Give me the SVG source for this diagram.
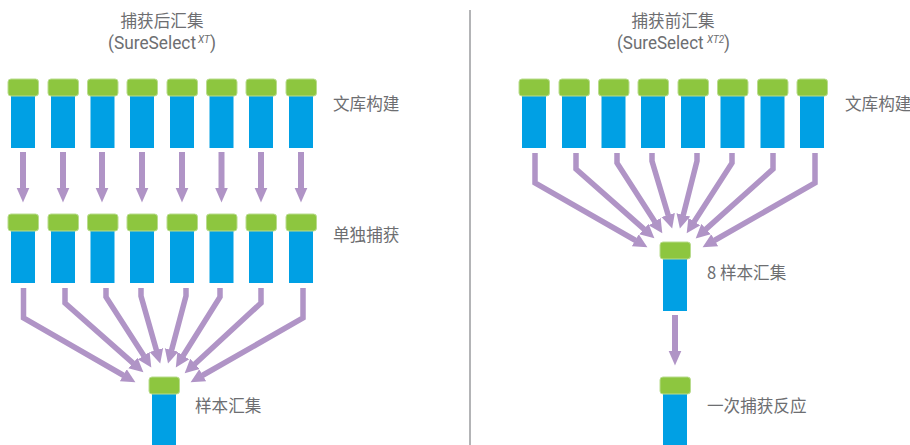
<svg xmlns="http://www.w3.org/2000/svg" width="910" height="445" viewBox="0 0 910 445">
<style>
.cap{fill:#8dc63f;stroke:#b9dc8e;stroke-width:1}
.tube{fill:#00a0e4}
.l{fill:#6d6e71;font-family:"Noto Sans CJK SC","Noto Sans",sans-serif;font-size:16.6px}
.t{fill:#6d6e71;font-family:Roboto,"Liberation Sans",sans-serif;font-size:18px}
.s{font-size:10.500px;font-style:italic}
.a{fill:none;stroke:#b094c6;stroke-width:5.5;stroke-linejoin:miter;marker-end:url(#h)}
.v{fill:none;stroke:#b094c6;stroke-width:6;marker-end:url(#h2)}
</style>
<defs>
<marker id="h" markerUnits="userSpaceOnUse" markerWidth="15" markerHeight="15" refX="0.5" refY="7.500" orient="auto" viewBox="0 0 15 15"><path d="M0 0.500L14 7.500L0 14.500z" fill="#b094c6"/></marker>
<marker id="h2" markerUnits="userSpaceOnUse" markerWidth="16" markerHeight="14" refX="0.5" refY="7" orient="auto" viewBox="0 0 16 14"><path d="M0 0.500L15 7L0 13.500z" fill="#b094c6"/></marker>
<g id="s"><rect class="tube" x="3" y="17" width="24" height="52"/><rect class="cap" x="0" y="0" width="30.500" height="17" rx="3"/></g>
</defs>
<line id="divider" x1="470" y1="10" x2="470" y2="445" stroke="#808285" stroke-width="1.2"/>
<g id="connectors">
<path class="v" d="M23 152V188"/><path class="v" d="M63 152V188"/><path class="v" d="M102 152V188"/><path class="v" d="M142 152V188"/><path class="v" d="M182 152V188"/><path class="v" d="M221.500 152V188"/><path class="v" d="M261 152V188"/><path class="v" d="M301 152V188"/>
<path class="a" d="M23.500 288V318L123.700 375.500"/><path class="a" d="M65 288V303L133.300 363.400"/><path class="a" d="M106 288V297L144 356.100"/><path class="a" d="M141 288V296L156.500 350.500"/><path class="a" d="M186 288V296L171.500 350.500"/><path class="a" d="M220 288V297L183 356"/><path class="a" d="M261 288V303L194.600 364.200"/><path class="a" d="M303 288V318L202.300 375.500"/>
<path class="v" d="M675 315V351"/>
<path class="a" d="M535 153V183L635.700 240.500"/><path class="a" d="M576 153V169L644.300 229.400"/><path class="a" d="M617 153V163L655 222"/><path class="a" d="M652 153V161L668.300 215.500"/><path class="a" d="M697 153V161L683.200 215.400"/><path class="a" d="M732 153V163L694 222"/><path class="a" d="M773 153V169L705.700 229.400"/><path class="a" d="M815 153V183L714.300 240.500"/>
</g>
<g id="left-row1"><use href="#s" x="8" y="79"/><use href="#s" x="48" y="79"/><use href="#s" x="87.500" y="79"/><use href="#s" x="127" y="79"/><use href="#s" x="167" y="79"/><use href="#s" x="206.500" y="79"/><use href="#s" x="246" y="79"/><use href="#s" x="286" y="79"/></g>
<g id="left-row2"><use href="#s" x="8" y="214"/><use href="#s" x="48" y="214"/><use href="#s" x="87.500" y="214"/><use href="#s" x="127" y="214"/><use href="#s" x="167" y="214"/><use href="#s" x="206.500" y="214"/><use href="#s" x="246" y="214"/><use href="#s" x="286" y="214"/></g>
<g id="left-pool"><use href="#s" x="149" y="377"/></g>
<g id="right-row1"><use href="#s" x="519" y="79"/><use href="#s" x="559" y="79"/><use href="#s" x="598.500" y="79"/><use href="#s" x="638" y="79"/><use href="#s" x="678" y="79"/><use href="#s" x="717.500" y="79"/><use href="#s" x="757.500" y="79"/><use href="#s" x="797" y="79"/></g>
<g id="right-pool"><use href="#s" x="660" y="242"/></g>
<g id="right-capture"><use href="#s" x="660" y="377"/></g>
<g id="labels">
<text class="l" x="162" y="27" text-anchor="middle">捕获后汇集</text>
<text class="t" x="108" y="49" textLength="108" lengthAdjust="spacingAndGlyphs">(SureSelect<tspan class="s" dx="2" dy="-6">XT</tspan><tspan dy="6">)</tspan></text>
<text class="l" x="673" y="27" text-anchor="middle">捕获前汇集</text>
<text class="t" x="617" y="49" textLength="113" lengthAdjust="spacingAndGlyphs">(SureSelect<tspan class="s" dx="3.500" dy="-6">XT2</tspan><tspan dy="6">)</tspan></text>
<text class="l" x="333" y="110">文库构建</text>
<text class="l" x="333" y="241">单独捕获</text>
<text class="l" x="195" y="412">样本汇集</text>
<text class="l" x="845" y="110">文库构建</text>
<text class="l" x="707" y="279">8 样本汇集</text>
<text class="l" x="707" y="412">一次捕获反应</text>
</g>
</svg>
